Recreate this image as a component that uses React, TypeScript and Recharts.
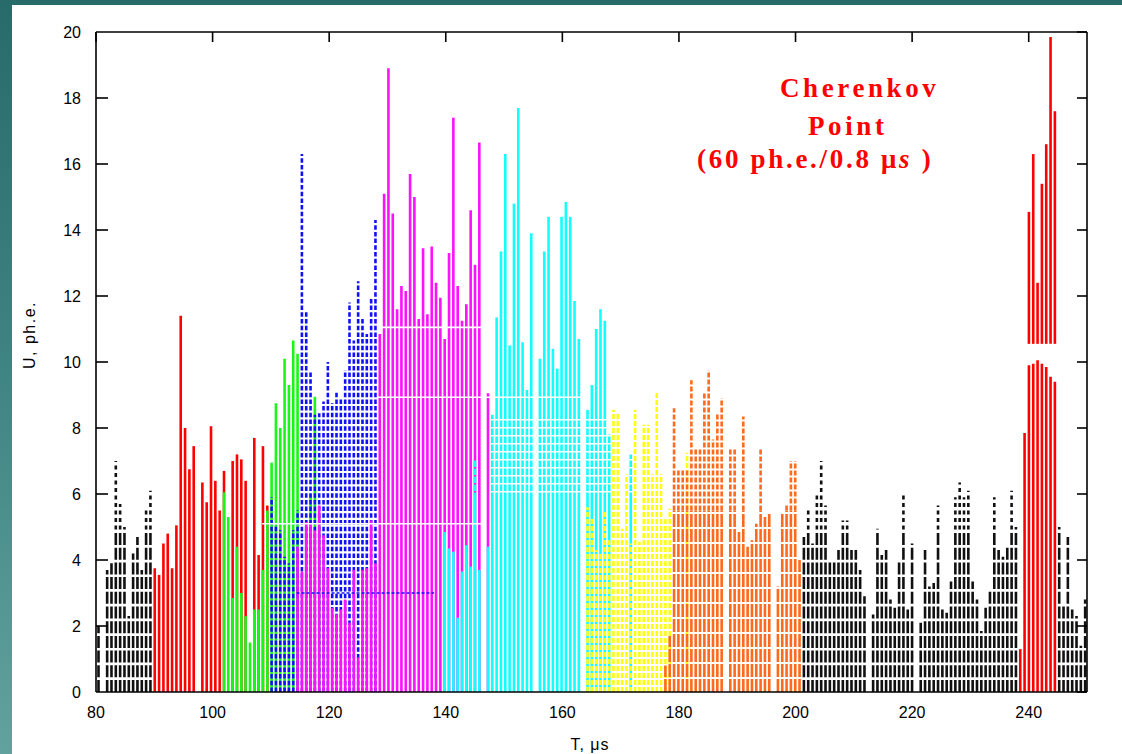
import React from "react";
import { BarChart, Bar, XAxis, YAxis, ReferenceLine } from "recharts";

// time axis, microseconds
const T_START = 80;
const T_END = 250;
const BIN_COUNT = 229;
const BIN = (T_END - T_START) / BIN_COUNT;
const U_MAX = 20;

const xTicks = [80, 100, 120, 140, 160, 180, 200, 220, 240];
const yTicks = [0, 2, 4, 6, 8, 10, 12, 14, 16, 18, 20];

// each run: amplitudes (ph.e.) of consecutive bins, starting at the given bin index
const blackLeftStart = 0;
const blackLeft = [2.0, 0, 3.7, 3.9, 7.0, 5.7, 5.0, 2.3, 4.2, 4.7, 3.7, 5.6, 6.1];

const redStart = 13;
const redRun = [
  3.75, 3.55, 4.5, 4.8, 3.75, 5.05, 11.4, 8.0, 6.75, 7.45, 0, 6.35, 5.75, 8.05,
  6.4, 5.5, 6.7, 0, 7.0, 7.2, 7.05, 6.4, 0, 7.7, 4.15, 7.45, 5.65,
];

const greenStart = 29;
const greenRun = [
  6.05, 5.3, 2.85, 4.4, 3.0, 2.3, 1.5, 2.5, 2.5, 3.7, 5.5, 6.95, 8.75, 8.0,
  10.1, 9.3, 10.65, 10.25, 0, 5.2, 6.0, 8.95, 5.4,
];

const blueStart = 40;
const blueRun = [
  5.9, 5.05, 4.9, 4.1, 3.9, 4.9, 5.5, 16.3, 11.55, 9.7, 8.4, 8.45, 8.8, 10.0,
  8.75, 9.1, 8.9, 9.75, 11.8, 10.65, 12.45, 11.35, 10.85, 11.95, 14.3,
];

const magentaStart = 46;
const magentaRun = [
  4.4, 3.65, 5.15, 5.1, 4.9, 5.65, 4.75, 3.75, 2.55, 2.35, 2.5, 2.8, 2.1, 3.7,
  1.05, 3.7, 3.75, 5.2, 3.9, 10.85, 15.1, 18.9, 14.5, 11.6, 12.3, 12.15, 15.7,
  15.0, 11.3, 13.45, 11.45, 13.5, 12.4, 11.95, 10.7, 13.3, 17.4, 12.3, 11.25,
  11.75, 14.6, 12.95, 16.65, 0, 9.05,
];

const cyanStart = 80;
const cyanRun = [
  4.85, 4.35, 4.25, 2.25, 3.65, 4.45, 3.8, 7.05, 3.7, 0, 4.4, 8.4, 11.35, 13.35,
  16.3, 10.5, 14.8, 17.7, 10.6, 9.15, 13.9, 0, 10.1, 13.35, 14.4, 10.4, 9.8,
  14.4, 14.85, 14.4, 11.85, 10.7, 0, 8.55, 9.3, 11.0, 11.6, 11.25, 7.8, 0, 0, 0,
  0, 7.2,
];

const yellowStart = 113;
const yellowRun = [
  5.6, 5.3, 4.3, 4.2, 5.5, 4.6, 8.55, 8.45, 4.95, 6.6, 4.5, 8.55, 4.55, 8.1,
  8.1, 6.6, 9.1, 6.6, 5.3, 5.55, 0, 0, 0, 7.25,
];

const orangeStart = 131;
const orangeRun = [
  0.8, 1.7, 8.6, 6.75, 6.75, 6.75, 9.45, 7.4, 7.4, 9.1, 9.75, 7.65, 8.45, 8.9,
  0, 7.4, 7.4, 4.85, 8.35, 4.4, 4.6, 5.1, 7.4, 5.3, 5.45, 0, 3.2, 5.45, 5.7,
  7.0, 7.0, 4.0,
];

const blackRightStart = 163;
const blackRight = [
  4.7, 5.6, 4.5, 6.05, 7.0, 5.65, 4.0, 4.0, 4.3, 5.2, 5.2, 4.3, 4.3, 3.7, 2.9,
  0, 2.35, 4.95, 4.15, 4.3, 2.8, 2.55, 4.0, 6.05, 2.5, 4.5, 0, 2.1, 4.3, 3.2,
  3.3, 5.65, 2.5, 2.4, 3.35, 5.9, 6.35, 5.9, 6.1, 3.35, 2.8, 1.85, 2.55, 3.1,
  5.9, 4.3, 4.1, 4.4, 6.1, 5.0,
];

const blackTailStart = 222;
const blackTail = [5.0, 2.6, 4.7, 2.5, 2.3, 1.4, 2.8];

// Cherenkov point: bars are drawn with a break just above 10
const cherLowStart = 213;
const cherLow = [1.3, 7.85, 9.9, 9.95, 10.05, 9.95, 9.85, 9.55, 9.4];
const cherHighStart = 215;
const cherHigh = [14.55, 16.3, 12.4, 15.4, 16.6, 19.85, 17.6];
const CHER_BREAK = 10.55;

// white gaps cut through the bars, and the blue dotted trace at 3 ph.e.
const whiteCuts = [
  { y: 11.05, from: 128.2, to: 146.8 },
  { y: 8.93, from: 128.2, to: 163.7 },
  { y: 5.1, from: 108.5, to: 146.8 },
];
const blueTrace = { y: 3.0, from: 114.4, to: 138.0 };

type Row = { [k: string]: number | number[] | undefined };

const rows: Row[] = Array.from({ length: BIN_COUNT }, (_, i) => ({
  k: i,
  t: T_START + (i + 0.5) * BIN,
}));

function put(key: string, start: number, vals: number[], base?: number) {
  vals.forEach((v, j) => {
    if (v > 0) rows[start + j][key] = base === undefined ? v : [base, v];
  });
}

put("black", blackLeftStart, blackLeft);
put("black", blackRightStart, blackRight);
put("black", blackTailStart, blackTail);
put("red", redStart, redRun);
put("green", greenStart, greenRun);
put("blue", blueStart, blueRun);
put("magenta", magentaStart, magentaRun);
put("cyan", cyanStart, cyanRun);
put("yellow", yellowStart, yellowRun);
put("orange", orangeStart, orangeRun);
put("cherLow", cherLowStart, cherLow);
put("cherHigh", cherHighStart, cherHigh, CHER_BREAK);

const STICK_W = 2.6;

type Seg = [number, string | undefined];

const Stick = (props: any) => {
  const { x, y, width, height, value, fill, segs } = props;
  if (!(height > 0)) return null;
  const cx = x + width / 2;
  const bottom = y + height;
  const v = Array.isArray(value) ? value[1] - value[0] : value;
  const perUnit = height / v;
  const parts: React.ReactNode[] = [];
  let from = 0;
  for (const [upTo, dash] of segs as Seg[]) {
    const to = Math.min(upTo, v);
    if (to > from) {
      parts.push(
        <line
          key={from}
          x1={cx}
          x2={cx}
          y1={bottom - from * perUnit}
          y2={bottom - to * perUnit}
          stroke={fill}
          strokeWidth={STICK_W}
          strokeDasharray={dash}
        />
      );
    }
    from = to;
    if (from >= v) break;
  }
  return <g>{parts}</g>;
};

const solid: Seg[] = [[999, undefined]];
const series: { key: string; color: string; segs: Seg[] }[] = [
  { key: "black", color: "#111", segs: [[4.7, "12 2.7"], [999, "4 3.5"]] },
  { key: "red", color: "#ff0000", segs: solid },
  { key: "green", color: "#19f719", segs: solid },
  { key: "blue", color: "#1010ff", segs: [[999, "4.5 2.2"]] },
  { key: "magenta", color: "#ff10ff", segs: solid },
  { key: "cyan", color: "#10ffff", segs: [[5.85, undefined], [8.3, "6.5 1.5"], [999, undefined]] },
  { key: "yellow", color: "#ffff10", segs: [[999, "5 2"]] },
  { key: "orange", color: "#ff6a1e", segs: [[5.5, "13 2"], [999, "5 2"]] },
  { key: "cherLow", color: "#ff0000", segs: solid },
  { key: "cherHigh", color: "#ff0000", segs: solid },
];

// layout of the plot frame
const CHART_W = 1122;
const CHART_H = 754;
const PLOT_LEFT = 96;
const PLOT_TOP = 32;
const RIGHT_GAP = 35;
const X_AXIS_H = 62;
const PLOT_BOTTOM = CHART_H - X_AXIS_H;
const PX_PER_U = (PLOT_BOTTOM - PLOT_TOP) / U_MAX;

const FONT = "Liberation Sans, Arial, sans-serif";
const tickFont = { fill: "#000", fontSize: 16, fontFamily: FONT };
const frame = { stroke: "#000", strokeWidth: 1.6 };
const noLabel = () => "";

const App = () => {
  return (
    <div
      style={{
        position: "absolute",
        left: 0,
        top: 0,
        width: CHART_W,
        height: CHART_H,
        overflow: "hidden",
        background: "linear-gradient(180deg, #276b6b 0%, #3f8583 50%, #62a29e 100%)",
      }}
    >
      <div style={{ position: "absolute", left: 12, top: 5, right: 0, bottom: 0, background: "#fff" }} />
      <div style={{ position: "absolute", left: 0, top: 0 }}>
        <BarChart
          width={CHART_W}
          height={CHART_H}
          data={rows}
          margin={{ top: PLOT_TOP, right: RIGHT_GAP, bottom: 0, left: 0 }}
          barGap={-3}
        >
          <XAxis
            xAxisId="t"
            dataKey="t"
            type="number"
            domain={[T_START, T_END]}
            ticks={xTicks}
            allowDataOverflow
            height={X_AXIS_H}
            tickLine={false}
            axisLine={frame}
            tick={tickFont}
            tickMargin={9}
            interval={0}
          />
          <XAxis xAxisId="cat" dataKey="k" type="category" hide height={0} />
          <XAxis
            xAxisId="top"
            dataKey="t"
            type="number"
            orientation="top"
            mirror
            domain={[T_START, T_END]}
            ticks={xTicks}
            allowDataOverflow
            tickSize={10}
            tickLine={frame}
            axisLine={frame}
            tickFormatter={noLabel}
            interval={0}
          />
          <YAxis
            yAxisId="v"
            type="number"
            domain={[0, U_MAX]}
            ticks={yTicks}
            allowDataOverflow
            width={PLOT_LEFT}
            tickLine={false}
            axisLine={frame}
            tick={tickFont}
            tickMargin={9}
            interval={0}
          />
          <YAxis
            yAxisId="rm"
            type="number"
            orientation="right"
            mirror
            domain={[0, U_MAX]}
            ticks={yTicks}
            allowDataOverflow
            tickSize={10}
            tickLine={frame}
            axisLine={frame}
            tickFormatter={noLabel}
            interval={0}
          />
          {series.map((s) => (
            <Bar
              key={s.key}
              xAxisId="cat"
              yAxisId="v"
              dataKey={s.key}
              fill={s.color}
              barSize={3}
              isAnimationActive={false}
              shape={(p: any) => <Stick {...p} segs={s.segs} />}
            />
          ))}
          {whiteCuts.map((c) => (
            <ReferenceLine
              key={c.y}
              xAxisId="t"
              yAxisId="v"
              segment={[
                { x: c.from, y: c.y },
                { x: c.to, y: c.y },
              ]}
              stroke="#fff"
              strokeWidth={1.6}
              ifOverflow="visible"
            />
          ))}
          <ReferenceLine
            xAxisId="t"
            yAxisId="v"
            segment={[
              { x: blueTrace.from, y: blueTrace.y },
              { x: blueTrace.to, y: blueTrace.y },
            ]}
            stroke="#1010ff"
            strokeWidth={1.5}
            strokeDasharray="3 2"
            ifOverflow="visible"
          />
        </BarChart>
      </div>
      <svg
        width={CHART_W}
        height={CHART_H}
        style={{ position: "absolute", left: 0, top: 0, pointerEvents: "none" }}
      >
        {/* inward ticks on the left frame */}
        {yTicks.slice(1, -1).map((v) => (
          <line
            key={v}
            x1={PLOT_LEFT}
            x2={PLOT_LEFT + 12}
            y1={PLOT_BOTTOM - v * PX_PER_U}
            y2={PLOT_BOTTOM - v * PX_PER_U}
            stroke="#000"
            strokeWidth={1.6}
          />
        ))}
        <g fill="#ff0000" fontFamily="Liberation Serif, Times New Roman, serif" fontWeight="bold" fontSize={27}>
          <text x={780} y={97} letterSpacing={3.6}>Cherenkov</text>
          <text x={808} y={135} letterSpacing={3.6}>Point</text>
          <text x={697} y={168} letterSpacing={2.7}>
            (60 ph.e./0.8 μ<tspan fontStyle="italic">s</tspan> )
          </text>
        </g>
        <text x={590} y={750} textAnchor="middle" fontSize={16} fontFamily={FONT} letterSpacing={1}>
          T, μs
        </text>
        <text
          transform="translate(35 335) rotate(-90)"
          textAnchor="middle"
          fontSize={16}
          fontFamily={FONT}
          letterSpacing={1.5}
        >
          U, ph.e.
        </text>
      </svg>
    </div>
  );
};

export default App;
